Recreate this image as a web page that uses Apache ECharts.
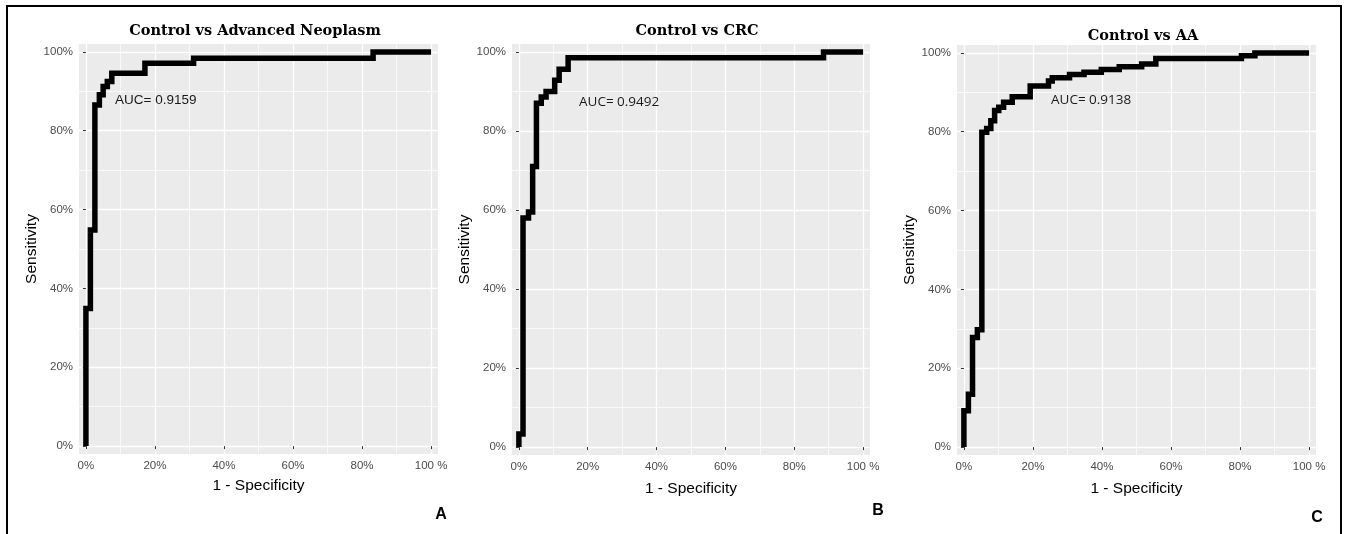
<!DOCTYPE html>
<html><head><meta charset="utf-8">
<script src="https://cdn.jsdelivr.net/npm/echarts@6/dist/echarts.min.js"></script>
<style>html,body{margin:0;padding:0;background:#fff}#chart{width:1346px;height:534px}</style>
</head><body><div id="chart"></div>
<script>
// ---- data ----
const panelTitles = ['Control vs Advanced Neoplasm', 'Control vs CRC', 'Control vs AA'];
const panelLetters = ['A', 'B', 'C'];
const aucLabels = ['AUC= 0.9159', 'AUC= 0.9492', 'AUC= 0.9138'];
const tickValues = [0, 0.2, 0.4, 0.6, 0.8, 1];
const minorTickValues = [0.1, 0.3, 0.5, 0.7, 0.9];
const xTickLabels = ['0%', '20%', '40%', '60%', '80%', '100 %'];
const yTickLabels = ['0%', '20%', '40%', '60%', '80%', '100%'];
const xAxisTitle = '1 - Specificity';
const yAxisTitle = 'Sensitivity';

// ROC corner points (1 - specificity, sensitivity)
const fprA = [0, 0, 0.013, 0.026, 0.039, 0.05, 0.062, 0.075, 0.171, 0.312, 0.832, 1];
const tprA = [0, 0.349, 0.548, 0.865, 0.891, 0.912, 0.925, 0.946, 0.971, 0.984, 1, 1];
const fprB = [0, 0, 0.012, 0.028, 0.04, 0.051, 0.065, 0.079, 0.104, 0.117, 0.143, 0.885, 1];
const tprB = [0, 0.033, 0.58, 0.595, 0.71, 0.87, 0.886, 0.9, 0.928, 0.956, 0.985, 1, 1];
const fprC = [0, 0, 0.013, 0.025, 0.039, 0.052, 0.066, 0.078, 0.089, 0.101, 0.115, 0.14, 0.192, 0.245, 0.256, 0.306, 0.348, 0.398, 0.45, 0.515, 0.556, 0.804, 0.843, 1];
const tprC = [0, 0.092, 0.134, 0.278, 0.298, 0.799, 0.808, 0.828, 0.854, 0.862, 0.875, 0.889, 0.916, 0.929, 0.937, 0.945, 0.951, 0.958, 0.965, 0.972, 0.986, 0.993, 1, 1];

const curves = [[fprA, tprA], [fprB, tprB], [fprC, tprC]];

// ---- layout (positions & styles) ----
const layouts = [
  {left: 79, top: 44, width: 359, height: 410, titleX: 255, titleY: 31, letterX: 441, letterY: 515, aucX: 115, aucY: 100.5, aucFont: 'Liberation Sans', xGap: 24, yGap: 38},
  {left: 512, top: 44, width: 358, height: 411, titleX: 697, titleY: 31, letterX: 878, letterY: 511, aucX: 579, aucY: 102.5, aucFont: 'Open Sans', xGap: 26, yGap: 36},
  {left: 957, top: 45, width: 359, height: 410, titleX: 1143, titleY: 36, letterX: 1317, letterY: 518, aucX: 1051, aucY: 100, aucFont: 'Open Sans', xGap: 26, yGap: 35}
];

function labelFor(arr, v) {
  const i = tickValues.findIndex(t => Math.abs(t - v) < 1e-6);
  return i >= 0 ? arr[i] : '';
}

const grids = [], xAxes = [], yAxes = [], series = [], graphics = [];
const labelStyle = {color: '#4D4D4D', fontSize: 11.5, fontFamily: 'Liberation Sans'};
const nameStyle = {color: '#000', fontSize: 15.5, fontFamily: 'Liberation Sans'};

layouts.forEach((L, k) => {
  grids.push({left: L.left, top: L.top, width: L.width, height: L.height, show: true,
    backgroundColor: '#EBEBEB', borderWidth: 0, containLabel: false, outerBoundsMode: 'none'});
  // main axes
  xAxes.push({type: 'value', gridIndex: k, min: -0.02, max: 1.02, position: 'bottom',
    name: xAxisTitle, nameLocation: 'middle', nameGap: L.xGap, nameTextStyle: nameStyle,
    axisLine: {show: false},
    axisTick: {show: true, length: 3, lineStyle: {color: '#333', width: 1}, customValues: tickValues},
    axisLabel: {show: true, margin: 6, customValues: tickValues, formatter: v => labelFor(xTickLabels, v), ...labelStyle},
    splitLine: {show: true, lineStyle: {color: '#FFFFFF', width: 1.3}}
  });
  xAxes.push({type: 'value', gridIndex: k, min: -0.02, max: 1.02, position: 'top',
    axisLine: {show: false}, axisTick: {show: false, customValues: minorTickValues},
    axisLabel: {show: false}, splitLine: {show: true, lineStyle: {color: '#FFFFFF', width: 0.7}}
  });
  yAxes.push({type: 'value', gridIndex: k, min: -0.02, max: 1.02, position: 'left',
    name: yAxisTitle, nameLocation: 'middle', nameGap: L.yGap, nameTextStyle: nameStyle,
    axisLine: {show: false},
    axisTick: {show: true, length: 3, lineStyle: {color: '#333', width: 1}, customValues: tickValues},
    axisLabel: {show: true, margin: 6, customValues: tickValues, formatter: v => labelFor(yTickLabels, v), ...labelStyle},
    splitLine: {show: true, lineStyle: {color: '#FFFFFF', width: 1.3}}
  });
  yAxes.push({type: 'value', gridIndex: k, min: -0.02, max: 1.02, position: 'right',
    axisLine: {show: false}, axisTick: {show: false, customValues: minorTickValues},
    axisLabel: {show: false}, splitLine: {show: true, lineStyle: {color: '#FFFFFF', width: 0.7}}
  });
  const [fx, ty] = curves[k];
  series.push({type: 'line', xAxisIndex: 2 * k, yAxisIndex: 2 * k, step: 'end',
    data: fx.map((x, i) => [x, ty[i]]), showSymbol: false, symbol: 'none',
    lineStyle: {color: '#000', width: 5.5, cap: 'butt', join: 'miter'}, z: 5, silent: true});

  graphics.push({type: 'text', x: L.titleX, y: L.titleY, style: {text: panelTitles[k], fill: '#000',
    font: 'bold 14.5px "DejaVu Serif"', align: 'center', verticalAlign: 'middle'}});
  graphics.push({type: 'text', x: L.aucX, y: L.aucY, z: 10, style: {text: aucLabels[k], fill: '#1a1a1a',
    font: '13.5px "' + L.aucFont + '"', align: 'left', verticalAlign: 'middle'}});
  graphics.push({type: 'text', x: L.letterX, y: L.letterY, style: {text: panelLetters[k], fill: '#000',
    font: 'bold 16px "Liberation Sans"', align: 'center', verticalAlign: 'middle'}});
});

graphics.push({type: 'rect', shape: {x: 7, y: 6, width: 1334, height: 560}, z: 20,
  style: {fill: 'none', stroke: '#000', lineWidth: 2}});

const chart = echarts.init(document.getElementById('chart'), null, {renderer: 'canvas'});
chart.setOption({
  animation: false,
  backgroundColor: '#ffffff',
  grid: grids, xAxis: xAxes, yAxis: yAxes, series: series, graphic: graphics
});
</script></body></html>
